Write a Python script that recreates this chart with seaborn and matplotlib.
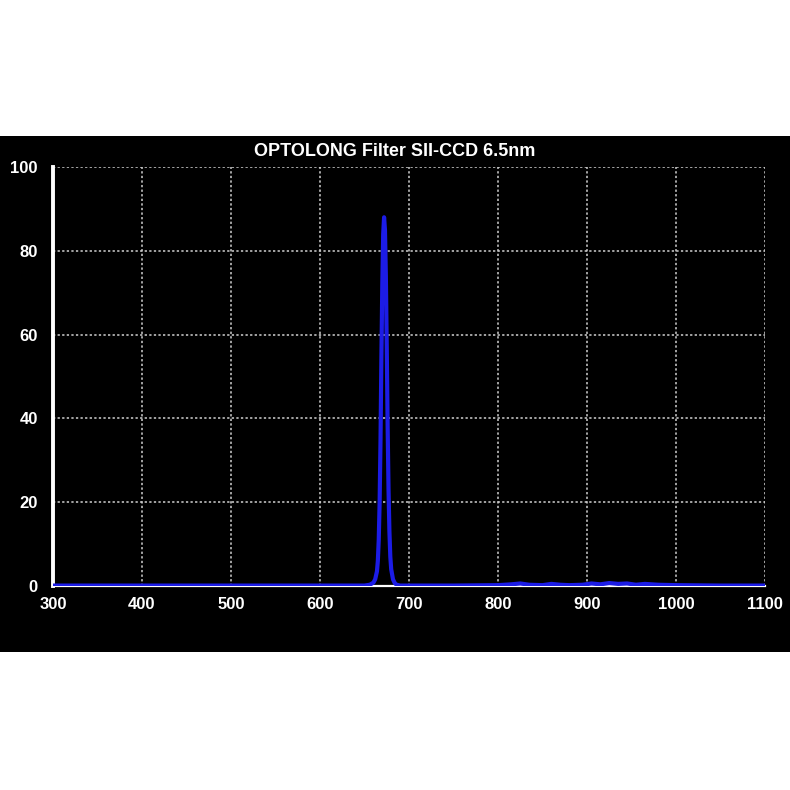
import numpy as np
import pandas as pd
import matplotlib
matplotlib.use('Agg')
import matplotlib.pyplot as plt
import seaborn as sns
from matplotlib.patches import Rectangle

# Transmission curve (wavelength in nm, transmission in %)
wavelength = [300, 400, 500, 600, 640, 650, 656, 660, 662, 664, 665, 666, 667,
              668, 669, 670, 671, 672, 673, 674, 675, 676, 677, 678, 679, 680,
              682, 684, 686, 690, 700, 750, 800, 815, 825, 835, 850, 860, 870,
              880, 895, 905, 915, 925, 935, 945, 955, 965, 980, 1000, 1050, 1100]
transmission = [0.1, 0.1, 0.1, 0.1, 0.1, 0.1, 0.3, 0.8, 1.6, 3.5, 6.0, 11.0, 20.0,
                35.0, 55.0, 72.0, 84.0, 88.0, 85.0, 74.0, 57.0, 38.0, 23.0, 13.0, 7.0, 4.0,
                1.6, 0.7, 0.3, 0.1, 0.1, 0.1, 0.2, 0.4, 0.6, 0.3, 0.2, 0.5, 0.3,
                0.2, 0.3, 0.6, 0.4, 0.7, 0.5, 0.6, 0.3, 0.5, 0.3, 0.2, 0.1, 0.1]

x_ticks = [300, 400, 500, 600, 700, 800, 900, 1000, 1100]
y_ticks = [0, 20, 40, 60, 80, 100]
title = 'OPTOLONG Filter SII-CCD 6.5nm'

df = pd.DataFrame({'wavelength': wavelength, 'transmission': transmission})

sns.set_theme(style='dark')
plt.rcParams['font.family'] = ['Liberation Sans', 'DejaVu Sans']

fig = plt.figure(figsize=(7.9, 7.9), dpi=100)
fig.patch.set_facecolor('white')
# black band behind the chart
band = Rectangle((0, 138 / 790), 1, (652 - 136) / 790,
                 transform=fig.transFigure, facecolor='black',
                 edgecolor='none', zorder=-10)
fig.patches.append(band)

ax = fig.add_axes([53 / 790, 204 / 790, 712 / 790, 419 / 790])
ax.set_zorder(5)
ax.set_facecolor('black')

sns.lineplot(data=df, x='wavelength', y='transmission', ax=ax,
             color='#1c1ce6', linewidth=3.0, zorder=5)

ax.set_xlim(300, 1100)
ax.set_ylim(0, 100)
ax.set_xticks(x_ticks)
ax.set_yticks(y_ticks)
ax.set_xlabel('')
ax.set_ylabel('')

ax.grid(True, color='#d0d0d0', linestyle=(0, (1.5, 1.5)), linewidth=1.1)
for side in ['top', 'right']:
    ax.spines[side].set_visible(False)
ax.spines['left'].set_color('white')
ax.spines['left'].set_linewidth(2.8)
ax.spines['bottom'].set_color('white')
ax.spines['bottom'].set_linewidth(1.6)
ax.spines['bottom'].set_zorder(4)

ax.tick_params(axis='x', colors='white', direction='in', length=3,
               width=3, pad=8, labelsize=12)
ax.tick_params(axis='y', colors='white', length=0, pad=11, labelsize=12)
for lbl in ax.get_xticklabels() + ax.get_yticklabels():
    lbl.set_fontweight('bold')

fig.text(0.5, 1 - 151 / 790, title, color='white', fontsize=13,
         fontweight='bold', ha='center', va='center', zorder=10)

fig.savefig('out.png', dpi=100, facecolor=fig.get_facecolor())
